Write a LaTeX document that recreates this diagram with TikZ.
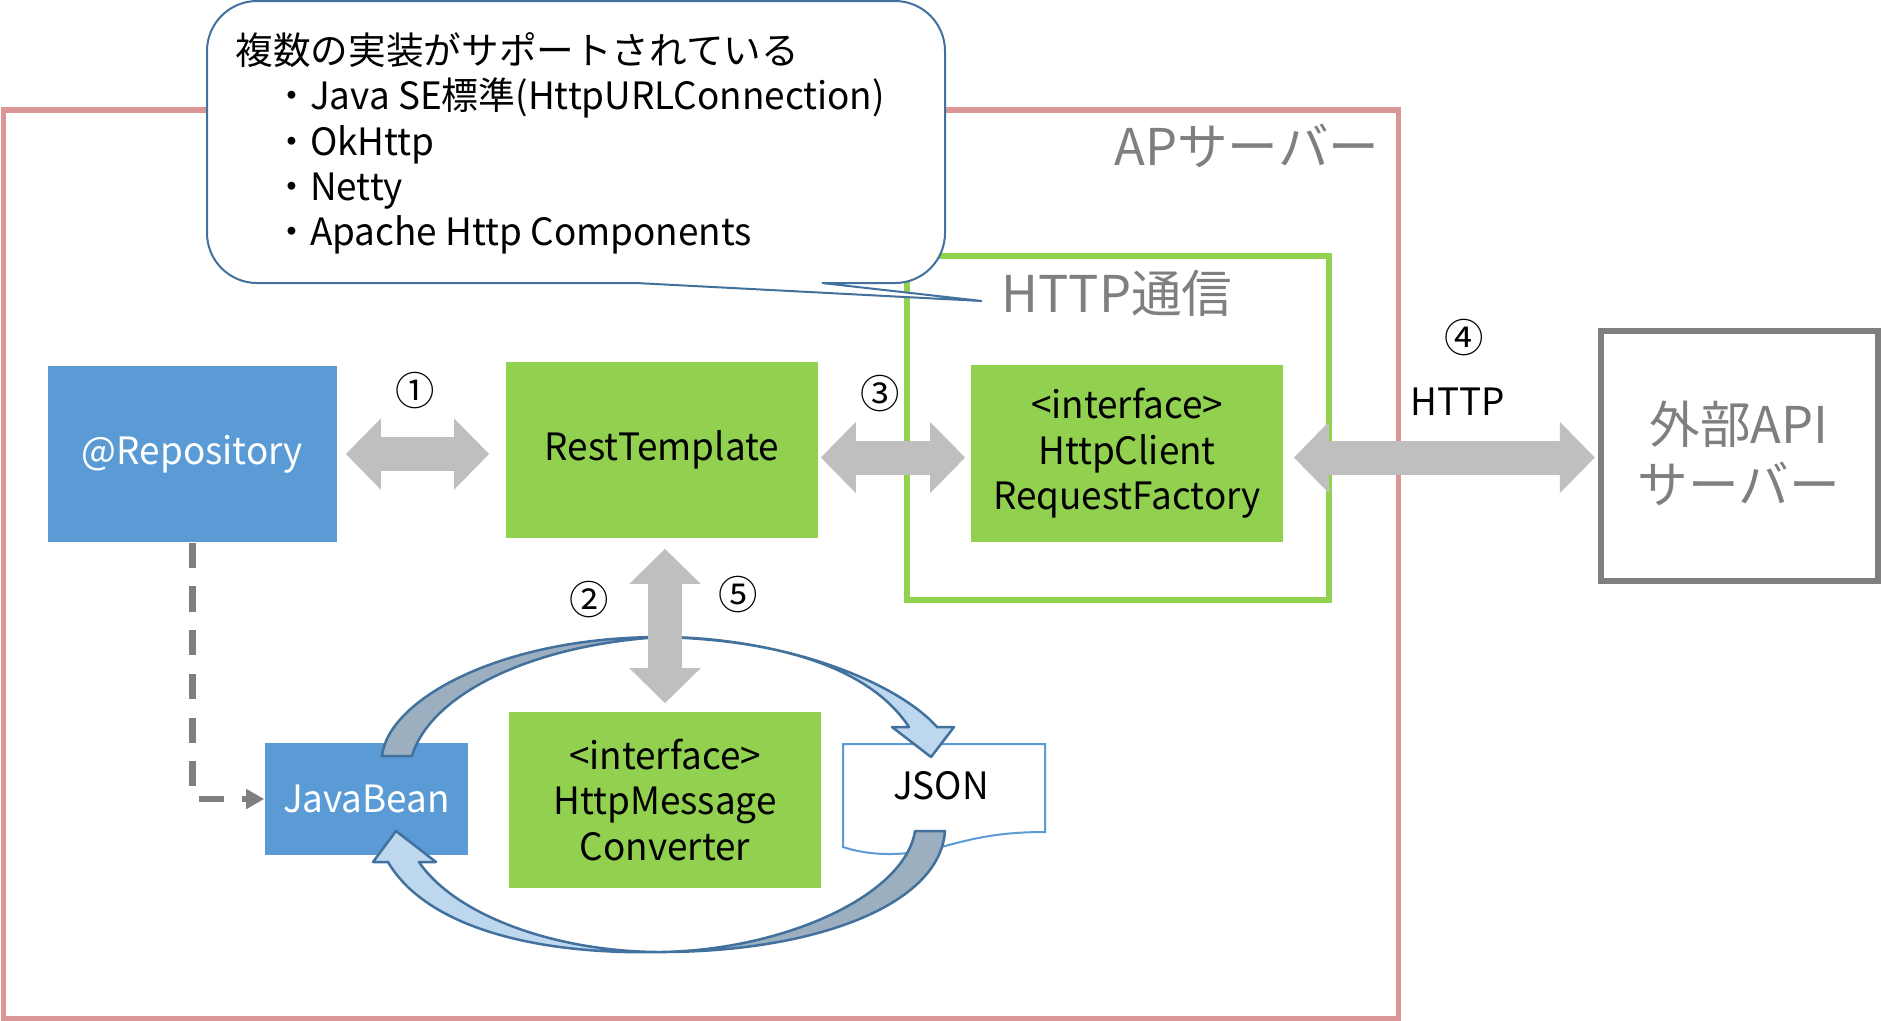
\documentclass[tikz,border=0pt]{standalone}
\usepackage{fontspec}
\setmainfont{Noto Sans CJK JP}
\newfontfamily\narrowlatin{Noto Sans CJK JP}[FakeStretch=0.98]
\usetikzlibrary{arrows.meta}

\definecolor{apred}{HTML}{D99694}
\definecolor{boxgreen}{HTML}{92D050}
\definecolor{boxblue}{HTML}{5B9BD5}
\definecolor{linegray}{HTML}{7F7F7F}
\definecolor{fatgray}{HTML}{BFBFBF}
\definecolor{edgeblue}{HTML}{41719C}
\definecolor{swooplight}{HTML}{BDD7EE}
\definecolor{swoopdark}{HTML}{9BAFC1}

\tikzset{
  bodytext/.style={font=\narrowlatin\fontsize{10.7pt}{12.9pt}\selectfont, align=center},
  numtext/.style={font=\fontsize{11.2pt}{12.9pt}\selectfont},
  bigtext/.style={font=\fontsize{14.4pt}{17pt}\selectfont, align=center, text=linegray, inner sep=0pt},
  block/.style={bodytext, inner sep=0pt, minimum width=3.12cm, minimum height=1.76cm},
  greenblock/.style={block, fill=boxgreen},
  blueblock/.style={block, fill=boxblue, text=white},
  frame/.style={draw, inner sep=0pt, line width=0.055cm},
  fatarrow/.style={draw=fatgray, line width=0.34cm, {Triangle[length=0.35cm,width=0.69cm]}-{Triangle[length=0.35cm,width=0.69cm]}},
  dashlink/.style={draw=linegray, line width=0.065cm, dash pattern=on 0.25cm off 0.187cm, -{Triangle[length=0.18cm,width=0.19cm]}},
  swoop/.style={draw=edgeblue, line width=0.025cm, line join=round},
}

\begin{document}
\begin{tikzpicture}[x=0.01cm, y=-0.01cm]
    \useasboundingbox (0,0) rectangle (1881,1020);

    \node[frame, draw=apred, minimum width=13.94cm, minimum height=9.08cm] (ap) at (701,564) {};
    \node[bigtext, anchor=east] (aptext) at (1380,146) {APサーバー};

    \node[frame, draw=boxgreen, line width=0.06cm, minimum width=4.21cm, minimum height=3.44cm] (http) at (1118,428) {};
    \node[bigtext] (httptext) at (1117,293) {HTTP通信};

    \node[frame, draw=linegray, line width=0.06cm, minimum width=2.77cm, minimum height=2.5cm] (ext) at (1739.5,456) {};
    \node[bigtext] (exttext) at (1739,453) {外部API\\サーバー};

    \node[blueblock, minimum width=2.89cm] (repo) at (192.5,454) {@Repository};
    \node[greenblock] (rest) at (662,450) {RestTemplate};
    \node[greenblock] (factory) at (1127,453.5) {<interface>\\HttpClient\\RequestFactory};
    \node[greenblock] (conv) at (665,800) {<interface>\\HttpMessage\\Converter};
    \node[blueblock, minimum width=2.03cm, minimum height=1.12cm] (bean) at (366.5,799) {JavaBean};

    % json sheet
    \draw[draw=boxblue, line width=0.02cm, fill=white] (843,744) -- (1045,744) -- (1045,832)
      .. controls (1000,832) and (975,838) .. (945,846)
      .. controls (905,857) and (870,856) .. (843,847) -- cycle;
    \node[bodytext] (json) at (941,786) {JSON};

    \draw[dashlink] (repo.south) |- (bean.west);

    % upper swoop
    \draw[swoop, fill=swoopdark] (382,756) .. controls (388,700) and (500,637) .. (661,637)
      .. controls (530,645) and (430,695) .. (412,756) -- cycle;
    \draw[swoop, fill=swooplight] (661,637) .. controls (780,637) and (895,680) .. (937,727)
      -- (954,727) -- (931,757) -- (892,727) -- (909,727)
      .. controls (870,668) and (780,640) .. (661,637) -- cycle;

    % lower swoop
    \draw[swoop, fill=swoopdark] (945,831) .. controls (940,905) and (815,952) .. (661,952)
      .. controls (785,950) and (905,895) .. (915,831) -- cycle;
    \draw[swoop, fill=swooplight] (661,952) .. controls (530,955) and (425,925) .. (388,862)
      -- (373,862) -- (396,831) -- (436,862) -- (419,862)
      .. controls (455,915) and (555,952) .. (661,952) -- cycle;

    \draw[fatarrow, shorten <=0.08cm, shorten >=0.16cm] (repo.east) -- (repo.east -| rest.west);
    \draw[fatarrow, shorten <=0.02cm, shorten >=0.05cm] ([yshift=-0.04cm]rest.east |- factory.west) -- ([yshift=-0.04cm]factory.west);
    \draw[fatarrow, shorten <=0.10cm, shorten >=0.03cm] ([yshift=-0.04cm]factory.east) -- ([yshift=-0.04cm]ext.west |- factory.east);
    \draw[fatarrow, shorten <=0.10cm, shorten >=0.08cm] (conv.north |- rest.south) -- (conv.north);

    \node[numtext] (no1) at (415,391) {①};
    \node[numtext] (no2) at (589,600) {②};
    \node[numtext] (no3) at (880,394) {③};
    \node[numtext] (no4) at (1464,338) {④};
    \node[numtext] (no5) at (738,595) {⑤};
    \node[bodytext] (httpname) at (1458,402) {HTTP};

    % balloon
    \draw[draw=edgeblue, line width=0.02cm, fill=white] (636,283) -- (982,301) -- (822,283)
      [rounded corners=0.5cm] -- (945,283) -- (945,1) -- (207,1) -- (207,283) [sharp corners] -- cycle;
    \node[bodytext, align=left, anchor=west, inner sep=0pt] (note) at (235,143.5) {{\rmfamily 複数の実装がサポートされている}\\
      \hspace*{1em}・Java SE標準(HttpURLConnection)\\
      \hspace*{1em}・OkHttp\\
      \hspace*{1em}・Netty\\
      \hspace*{1em}・Apache Http Components};

\end{tikzpicture}
\end{document}
